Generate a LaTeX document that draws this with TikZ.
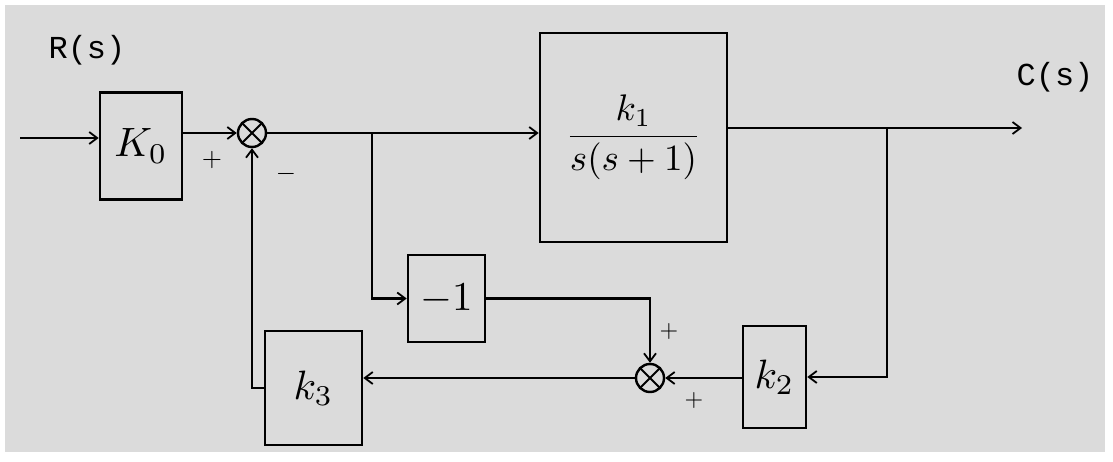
\documentclass[tikz,border=0pt]{standalone}
\usepackage{graphicx}
\usepackage{fontspec}
\newfontfamily\labfont{Liberation Mono}
\usetikzlibrary{arrows.meta}
\newcommand{\blkmath}[1]{\scalebox{4.1}{$#1$}}
\begin{document}
\begin{tikzpicture}[x=1pt,y=-1pt,
  blk/.style={draw,line width=2.6pt,inner sep=0pt},
  sumj/.style={draw,circle,line width=2.4pt,minimum size=28pt,inner sep=0pt,
    path picture={\draw[line width=1.8pt] (path picture bounding box.north west)--(path picture bounding box.south east)
      (path picture bounding box.north east)--(path picture bounding box.south west);}},
  wire/.style={line width=2.5pt},
  arr/.style={wire,-{Straight Barb[length=8pt,width=12pt,line width=1.8pt]}},
  lab/.style={font=\labfont\fontsize{32}{32}\selectfont}]
\useasboundingbox (0,0) rectangle (1113,462);
\fill[white] (0,0) rectangle (1113,462);
\fill[black!14] (5,5) rectangle (1105,452);
% blocks
\node[blk,minimum width=82pt,minimum height=107pt] (k0) at (141,146) {\blkmath{K_0}};
\node[blk,minimum width=187pt,minimum height=209pt] (g) at (633.5,137.5) {\scalebox{3.7}{$\displaystyle\frac{k_1}{s(s+1)}$}};
\node[blk,minimum width=77pt,minimum height=87pt] (m1) at (446.5,298.5) {\blkmath{-1}};
\node[blk,minimum width=63pt,minimum height=102pt] (k2) at (774.5,377) {\blkmath{k_2}};
\node[blk,minimum width=97pt,minimum height=114pt] (k3) at (313.5,388) {\blkmath{k_3}};
\node[sumj] (s1) at (252,133) {};
\node[sumj] (s2) at (650,378) {};
% labels
\node[lab] (rs) at (87,50) {R(s)};
\node[lab] (cs) at (1055,77) {C(s)};
\node (p1) at (212,160) {\scalebox{2.6}{$+$}};
\node (n1) at (286,174) {\scalebox{2.6}{$-$}};
\node (p2) at (669,331) {\scalebox{2.4}{$+$}};
\node (p3) at (694,400) {\scalebox{2.4}{$+$}};
% coordinates
\coordinate (in) at (20,138);
\coordinate (b1) at (372,133);
\coordinate (out) at (1022,128);
\coordinate (b2) at (887,128);
% connectors
\draw[arr] (in) -- (in -| k0.west);
\draw[arr] (k0.east |- s1) -- (s1.west);
\draw[arr] (s1.east) -- (s1 -| g.west);
\draw[arr] (b1) |- (m1.west);
\draw[arr] (g.east |- out) -- (out);
\draw[arr] (b2) |- (k2.east);
\draw[arr] (m1.east) -| (s2.north);
\draw[arr] (k2.west |- s2) -- (s2.east);
\draw[arr] (s2.west) -- (s2 -| k3.east);
\draw[arr] (k3.west) -| (s1.south);
\end{tikzpicture}
\end{document}
